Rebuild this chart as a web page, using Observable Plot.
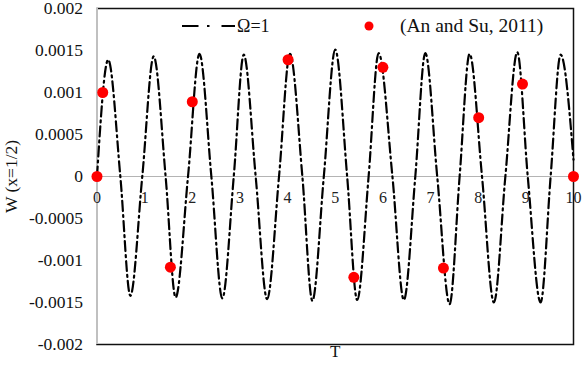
<!DOCTYPE html>
<html>
<head>
<meta charset="utf-8">
<script src="https://cdn.jsdelivr.net/npm/d3@7"></script>
<script src="https://cdn.jsdelivr.net/npm/@observablehq/plot@0.6"></script>
<style>
  html, body { margin: 0; padding: 0; background: #fff; }
  #wrap { position: relative; width: 582px; height: 371px; font-family: "Liberation Serif", "Times New Roman", serif; }
  #legend { position: absolute; left: 0; top: 0; pointer-events: none; }
</style>
</head>
<body>
<div id="wrap"></div>
<script>
// Ω=1 curve: key points (zero crossings, peaks, troughs)
const lineT = [0, 0.235, 0.49, 0.70, 0.95, 1.19, 1.44, 1.65, 1.91, 2.15, 2.40, 2.63, 2.87, 3.08, 3.33, 3.57, 3.82, 4.05, 4.31, 4.52, 4.76, 5.0, 5.25, 5.46, 5.70, 5.91, 6.20, 6.44, 6.68, 6.89, 7.14, 7.40, 7.61, 7.82, 8.08, 8.33, 8.57, 8.82, 9.04, 9.31, 9.52, 9.73, 10];
const lineW = [0, 0.00139, 0, -0.00142, 0, 0.00143, 0, -0.00144, 0, 0.00146, 0, -0.00145, 0, 0.00145, 0, -0.00146, 0, 0.00146, 0, -0.00148, 0, 0.00151, 0, -0.00147, 0, 0.00147, 0, -0.00147, 0, 0.00147, 0, -0.00152, 0, 0.00146, 0, -0.0015, 0, 0.00148, 0, -0.0015, 0, 0.00145, 0.0002];

// (An and Su, 2011) points
const refT = [0, 0.12, 1.54, 2.0, 4.01, 5.39, 6.0, 7.27, 8.01, 8.93, 10];
const refW = [0, 0.001, -0.00108, 0.00089, 0.00139, -0.0012, 0.0013, -0.00109, 0.0007, 0.0011, 0];

const xTicks = [0, 1, 2, 3, 4, 5, 6, 7, 8, 9, 10];
const yTicks = [-0.002, -0.0015, -0.001, -0.0005, 0, 0.0005, 0.001, 0.0015, 0.002];

const seriesName = "Ω=1";
const refName = "(An and Su, 2011)";
const xTitle = "T";
const yTitle = "W (x=1/2)";

const lineData = lineT.map((t, i) => ({T: t, W: lineW[i]}));
const refData = refT.map((t, i) => ({T: t, W: refW[i]}));

const chart = Plot.plot({
  width: 582,
  height: 371,
  marginLeft: 96.5,
  marginRight: 9,
  marginTop: 8,
  marginBottom: 27,
  x: {domain: [0, 10], axis: null},
  y: {domain: [-0.002, 0.002], axis: null},
  style: {fontFamily: "Liberation Serif, Times New Roman, serif", fontSize: "17.5px", background: "white", color: "#111", overflow: "visible"},
  marks: [
    Plot.ruleY([0], {stroke: "#b4b4b4", strokeWidth: 1}),
    Plot.frame({stroke: "#111", strokeWidth: 1.5}),
    Plot.ruleX([0], {stroke: "#c0c0c0", strokeWidth: 2}),
    Plot.line(lineData, {x: "T", y: "W", curve: "monotone-x", stroke: "#000", strokeWidth: 2.2, strokeDasharray: "10,4,2,4"}),
    Plot.dot(refData, {x: "T", y: "W", r: 5.5, fill: "#ff0000", stroke: "none"}),
    Plot.axisY({ticks: yTicks, tickSize: 0, tickPadding: 14, tickFormat: d => String(d), fontSize: 17.5,
      label: yTitle, labelAnchor: "center", labelArrow: "none", labelOffset: 92}),
    Plot.text(xTicks, {x: d => d, y: () => 0, dy: 21, text: d => String(d), fontSize: 16, fill: "#222"}),
    Plot.text([xTitle], {frameAnchor: "bottom", dy: 12, fontSize: 17, fill: "#111"})
  ]
});

const wrap = document.getElementById("wrap");
wrap.appendChild(chart);

// In-plot legend overlay
const leg = d3.select(wrap).append("svg")
  .attr("id", "legend").attr("width", 582).attr("height", 45)
  .style("font-family", "Liberation Serif, Times New Roman, serif");
leg.append("line").attr("x1", 182).attr("x2", 235).attr("y1", 26).attr("y2", 26)
  .attr("stroke", "#000").attr("stroke-width", 2.2).attr("stroke-dasharray", "16.5,8.5,2.5,12,16");
leg.append("text").attr("x", 237).attr("y", 32).attr("font-size", 18).attr("fill", "#111").text(seriesName);
leg.append("circle").attr("cx", 369).attr("cy", 26).attr("r", 4.5).attr("fill", "#ff0000");
leg.append("text").attr("x", 400).attr("y", 32).attr("font-size", 19.5).attr("fill", "#111").text(refName);
</script>
</body>
</html>
